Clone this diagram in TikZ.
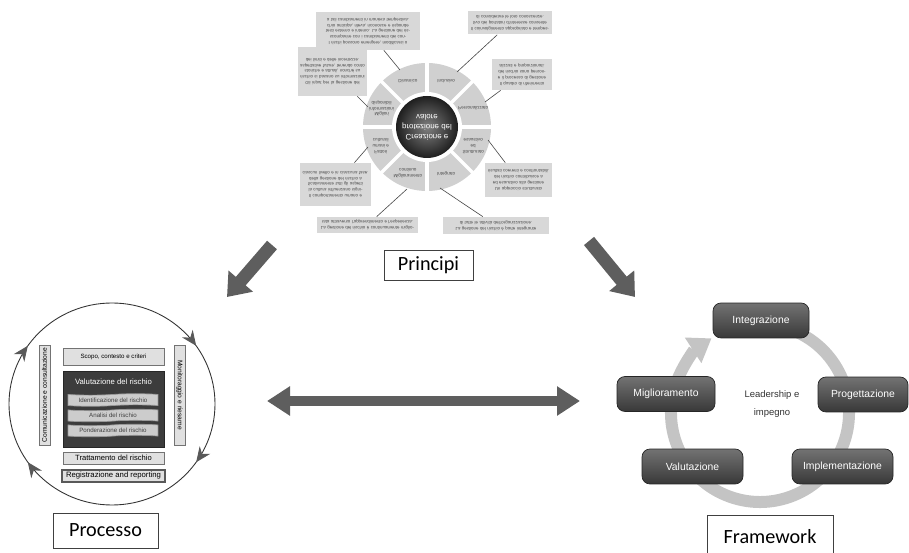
\documentclass[tikz,border=0pt]{standalone}
\usepackage{fontspec}
\setmainfont{Liberation Sans}
\newfontfamily\calibri{Carlito}
\usetikzlibrary{arrows.meta,shapes.symbols,decorations.markings}

\definecolor{arrowgray}{HTML}{5E5E5E}
\definecolor{seggray}{HTML}{D0D0D0}
\definecolor{boxgray}{HTML}{D8D8D8}
\definecolor{inkgray}{HTML}{4A4A4A}
\definecolor{darkbox}{HTML}{3C3C3C}
\definecolor{ringgray}{HTML}{C4C4C4}
\definecolor{lightbox}{HTML}{E0E0E0}

\tikzset{
  titlebox/.style={draw=black!75, line width=0.5pt, fill=white, inner sep=0pt,
    font=\calibri\fontsize{11.5}{13}\selectfont},
  wheelbox/.style={fill=boxgray, text=inkgray, align=center, inner sep=1pt,
    font=\fontsize{2.5}{3.3}\selectfont},
  seglabel/.style={text=inkgray, align=center, inner sep=0pt,
    font=\fontsize{2.6}{3.2}\selectfont},
  pline/.style={draw=inkgray, line width=0.35pt},
  procring/.style={draw=black!80, line width=0.5pt, postaction={decorate},
    decoration={markings,
      mark=at position 0.097 with {\arrow[black!65]{Stealth[length=0.3cm,width=0.26cm]}},
      mark=at position 0.403 with {\arrow[black!65]{Stealth[length=0.3cm,width=0.26cm]}},
      mark=at position 0.597 with {\arrow[black!65]{Stealth[length=0.3cm,width=0.26cm]}},
      mark=at position 0.903 with {\arrow[black!65]{Stealth[length=0.3cm,width=0.26cm]}}}},
  procbox/.style={draw=black!55, fill=lightbox, line width=0.4pt, inner sep=0pt,
    minimum width=2.02cm, minimum height=0.24cm, font=\fontsize{4.3}{5}\selectfont},
  subbox/.style={tape, tape bend height=0.8pt, draw=black!40, fill=black!20,
    inner sep=0pt, minimum width=1.8cm, minimum height=0.25cm, text=black!75,
    font=\fontsize{3.5}{4}\selectfont},
  barbox/.style={draw=black!55, fill=lightbox, line width=0.4pt, inner sep=0pt,
    minimum width=2cm, minimum height=0.22cm, font=\fontsize{3.8}{4.5}\selectfont},
  framebox/.style={rounded corners=0.16cm, draw=black!85, top color=black!55,
    bottom color=black!78, text=white, minimum height=0.7cm,
    font=\fontsize{5.9}{7}\selectfont},
  bigarrow/.style={draw=arrowgray, line width=0.26cm,
    -{Triangle[width=0.62cm,length=0.42cm]}},
  twoarrow/.style={draw=arrowgray, line width=0.2cm,
    {Triangle[width=0.56cm,length=0.46cm]}-{Triangle[width=0.56cm,length=0.46cm]}},
  ringline/.style={draw=ringgray, line width=0.24cm,
    -{Triangle[width=0.58cm,length=0.44cm]}},
}

\begin{document}
\begin{tikzpicture}[x=0.02cm, y=0.02cm, yscale=-1]
\useasboundingbox (0,0) rectangle (909,553);

% principi (upside down)
\begin{scope}[shift={(427,127)}, transform shape]
    \fill[seggray] (0,0) circle (64);
    \fill[white] (0,0) circle (35);
    \foreach \a in {0,45,...,315}
        \draw[white, line width=0.07cm] (\a:33) -- (\a:66);
    \shade[inner color=black!50, outer color=black!88] (0,0) circle (31);
    \node[text=white, align=center, font=\fontsize{4.5}{5.7}\selectfont] (valore) at (0,0)
        {Creazione e\\protezione del\\valore};

    \node[seglabel] (sInt) at (67.5:50) {Integrato};
    \node[seglabel] (sStr) at (22.5:50) {Strutturato\\ed\\esaustivo};
    \node[seglabel] (sPer) at (-22.5:50) {Personalizzato};
    \node[seglabel] (sInc) at (-67.5:50) {Inclusivo};
    \node[seglabel] (sDin) at (-112.5:50) {Dinamico};
    \node[seglabel] (sInf) at (-157.5:49) {Migliori\\informazioni\\disponibili};
    \node[seglabel] (sFat) at (157.5:50) {Fattori\\umani e\\culturali};
    \node[seglabel] (sMig) at (112.5:50) {Miglioramento\\continuo};

    \node[wheelbox, text width=2.06cm, minimum height=0.34cm] (bInt) at (69,98.5)
        {La gestione del rischio è parte integrante di tutte le attività dell'organizzazione.};
    \node[wheelbox, text width=1.26cm, minimum height=0.68cm] (bStr) at (91.5,53)
        {Un approccio strutturato ed esaustivo alla gestione del rischio contribuisce a risultati coerenti e confrontabili.};
    \node[wheelbox, text width=1.12cm, minimum height=0.62cm] (bPer) at (95,-52.5)
        {Il quadro di riferimento e il processo di gestione del rischio sono personalizzati e proporzionati.};
    \node[wheelbox, text width=1.6cm, minimum height=0.46cm] (bInc) at (83,-104)
        {Il coinvolgimento appropriato e tempestivo dei portatori d'interesse consente di considerare le loro conoscenze.};
    \node[wheelbox, text width=2cm, minimum height=0.76cm] (bDin) at (-59,-96)
        {I rischi possono emergere, modificarsi o scomparire con i cambiamenti dei contesti esterno e interno. La gestione del rischio anticipa, rileva, riconosce e risponde a tali cambiamenti in maniera tempestiva.};
    \node[wheelbox, text width=1.3cm, minimum height=0.98cm] (bInf) at (-94.5,-55.5)
        {Gli input per la gestione del rischio si basano su informazioni storiche e attuali, nonché su aspettative future, tenendo conto dei limiti e delle incertezze.};
    \node[wheelbox, text width=1.34cm, minimum height=0.86cm] (bFat) at (-91.5,57.5)
        {Il comportamento umano e la cultura influenzano significativamente tutti gli aspetti della gestione del rischio a ciascun livello e in ciascuna fase.};
    \node[wheelbox, text width=1.94cm, minimum height=0.32cm] (bMig) at (-59.5,98)
        {La gestione del rischio è continuamente migliorata attraverso l'apprendimento e l'esperienza.};

    \coordinate (tInt) at (13,61);
    \coordinate (tStr) at (61,13);
    \coordinate (tPer) at (58,-25);
    \coordinate (tInc) at (30,-55);
    \coordinate (tDin) at (-27,-57);
    \coordinate (tInf) at (-59,-20);
    \coordinate (tFat) at (-59,20);
    \coordinate (tMig) at (-20,62);
    \foreach \n in {Int,Str,Per,Inc,Din,Inf,Fat,Mig}
        \draw[pline] (b\n) -- (t\n);
\end{scope}

\node[titlebox, minimum width=1.78cm, minimum height=0.6cm] (principi) at (428.5,265) {Principi};

% frecce
\coordinate (aL1) at (272,245);
\coordinate (aL2) at (227,297);
\coordinate (aR1) at (589,241);
\coordinate (aR2) at (635,297);
\draw[bigarrow] (aL1) -- (aL2);
\draw[bigarrow] (aR1) -- (aR2);
\coordinate (dA) at (267,401);
\coordinate (dB) at (580,401);
\draw[twoarrow] (dA) -- (dB);

% processo
\draw[procring] (112,404) ellipse (103 and 101);
\node[barbox, rotate=90] (comun) at (44.5,395) {Comunicazione e consultazione};
\node[barbox, rotate=-90] (monit) at (179.5,395) {Monitoraggio e riesame};
\node[procbox, minimum height=0.34cm, font=\fontsize{3.5}{4}\selectfont] (scopo) at (113.5,356.5)
    {Scopo, contesto e criteri};
\node[draw=black!85, fill=darkbox, minimum width=2.02cm, minimum height=1.52cm, inner sep=0pt]
    (valut) at (113.5,409) {};
\node[text=white, font=\fontsize{4.4}{5}\selectfont] (valtit) at (113.5,382) {Valutazione del rischio};
\node[subbox] (ident) at (113,400) {Identificazione del rischio};
\node[subbox] (anali) at (113,415.5) {Analisi del rischio};
\node[subbox] (ponde) at (113,430.5) {Ponderazione del rischio};
\node[procbox] (tratt) at (113.5,458) {Trattamento del rischio};
\node[procbox, draw=black!65, line width=0.8pt, minimum width=2.06cm, font=\fontsize{4.4}{5}\selectfont]
    (regis) at (113.5,476) {Registrazione and reporting};
\node[titlebox, minimum width=2.1cm, minimum height=0.7cm] (processo) at (105.5,530.5) {Processo};

% framework
\begin{scope}[shift={(760,413)}, yscale=-1]
    \draw[ringline] (70:89) arc[start angle=70, end angle=-237, radius=89];
\end{scope}
\node[framebox, minimum width=1.92cm] (integr) at (761,320.5) {Integrazione};
\node[framebox, minimum width=1.8cm] (proget) at (863,394.5) {Progettazione};
\node[framebox, minimum width=2.02cm] (implem) at (842.5,466.5) {Implementazione};
\node[framebox, minimum width=2.02cm] (valutaz) at (692.5,466.5) {Valutazione};
\node[framebox, minimum width=1.96cm] (miglior) at (666,394) {Miglioramento};
\node[align=center, text=black!80, font=\fontsize{5.4}{10.5}\selectfont] (leader) at (772,404)
    {Leadership e\\impegno};
\node[titlebox, minimum width=2.52cm, minimum height=0.86cm] (framework) at (770,536.5) {Framework};

\end{tikzpicture}
\end{document}
